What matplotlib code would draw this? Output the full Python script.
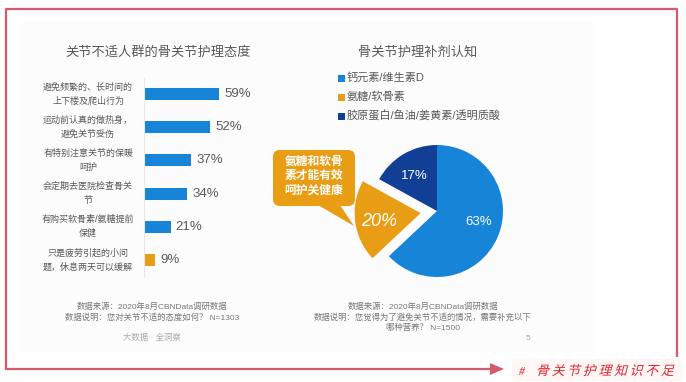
import numpy as np
import matplotlib
matplotlib.use('Agg')
import matplotlib.pyplot as plt
from matplotlib.patches import Rectangle, FancyBboxPatch, Polygon, PathPatch
from matplotlib.textpath import TextPath
from matplotlib.font_manager import FontProperties
from matplotlib.transforms import Affine2D

plt.rcParams['font.family'] = ['Liberation Sans', 'Noto Sans CJK SC']

W, H = 686, 382

# data
bar_title = '关节不适人群的骨关节护理态度'
bar_labels = ['避免频繁的、长时间的\n上下楼及爬山行为',
              '运动前认真的做热身，\n避免关节受伤',
              '有特别注意关节的保暖\n呵护',
              '会定期去医院检查骨关\n节',
              '有购买软骨素/氨糖提前\n保健',
              '只是疲劳引起的小问\n题，休息两天可以缓解']
bar_values = [59, 52, 37, 34, 21, 9]
bar_colors = ['#1685d8'] * 5 + ['#e99d15']

pie_title = '骨关节护理补剂认知'
pie_labels = ['钙元素/维生素D', '氨糖/软骨素', '胶原蛋白/鱼油/姜黄素/透明质酸']
pie_values = [63, 20, 17]
pie_colors = ['#1685d8', '#e99d15', '#123f96']
pie_explode = [0, 0.25, 0]

callout = '氨糖和软骨\n素才能有效\n呵护关健康'
note_left = '数据来源：2020年8月CBNData调研数据\n数据说明：您对关节不适的态度如何？ N=1303'
note_right = '数据来源：2020年8月CBNData调研数据\n数据说明：您觉得为了避免关节不适的情况，需要补充以下\n哪种营养？ N=1500'
footer_tag = '骨关节护理知识不足'

red = '#d45a6c'
grey = '#595959'

fig = plt.figure(figsize=(W / 100, H / 100), dpi=100)


def px_axes(x0, y0, x1, y1, z):
    return fig.add_axes([x0 / W, 1 - y1 / H, (x1 - x0) / W, (y1 - y0) / H], zorder=z)


# background / frame
bg = px_axes(0, 0, W, H, 0)
bg.set_xlim(0, W); bg.set_ylim(H, 0); bg.axis('off')
bg.add_patch(Rectangle((20, 22), 573, 330, color='#fcfcfc', lw=0))
bg.add_patch(Rectangle((512, 359), 171, 22, color='#fef7f6', lw=0))
bg.plot([6, 6, 677, 677], [369, 9, 9, 357], color=red, lw=1.6, solid_capstyle='butt')
bg.plot([6, 492], [369, 369], color=red, lw=1.6)
bg.add_patch(Polygon([(490, 363), (504, 369), (490, 375)], color=red, lw=0))

# italic, letter-spaced footer tag (CJK font has no italic, so skew the outlines)
fp = FontProperties(family='Noto Sans CJK SC')
chars = ['#'] + list(footer_tag)
xs = [518] + [536 + 15.6 * k for k in range(len(footer_tag))]
for ch, x0 in zip(chars, xs):
    tp = TextPath((0, 0), ch, size=13 if ch != '#' else 11, prop=fp)
    tf = Affine2D().skew_deg(14, 0).scale(1, -1).translate(x0, 375)
    bg.add_patch(PathPatch(tf.transform_path(tp), color='#e0242c', lw=0))

# bar chart
ax = px_axes(144, 77.5, 271, 276.5, 1)
y = np.arange(len(bar_values))
ax.barh(y, bar_values, height=0.36, color=bar_colors)
ax.set_xlim(0, 100)
ax.set_ylim(len(bar_values) - 0.5, -0.5)
ax.set_xticks([]); ax.set_yticks([])
for s in ['top', 'right', 'bottom']:
    ax.spines[s].set_visible(False)
ax.spines['left'].set_color('#e8e8e8')
ax.patch.set_alpha(0)
for i, (lab, v) in enumerate(zip(bar_labels, bar_values)):
    ax.text(v + 4, i, f'{v}%', va='center', ha='left', fontsize=9.5, color=grey)
    ax.text(-44, i, lab, va='center', ha='center', fontsize=6.5, color=grey,
            linespacing=1.7, clip_on=False)

# pie chart
pax = px_axes(338, 112, 536, 310, 1)
wedges, _ = pax.pie(pie_values, colors=pie_colors, startangle=90, counterclock=False,
                    explode=pie_explode, radius=1, wedgeprops=dict(linewidth=0))
pax.set_xlim(-1.5, 1.5); pax.set_ylim(-1.5, 1.5)
pax.set_aspect('equal')
pax.axis('off')
for w, v, ex in zip(wedges, pie_values, pie_explode):
    ang = np.deg2rad((w.theta1 + w.theta2) / 2)
    if v == 20:
        r = 0.6 + ex
        pax.text(r * np.cos(ang) - 0.03, r * np.sin(ang) - 0.05, f'{v}%', color='white',
                 fontsize=13, style='italic', ha='center', va='center')
    else:
        pax.text(0.68 * np.cos(ang), 0.68 * np.sin(ang) + (0.1 if v == 63 else -0.05), f'{v}%',
                 color='white', fontsize=9.5, ha='center', va='center')

# overlay texts
ov = px_axes(0, 0, W, H, 2)
ov.set_xlim(0, W); ov.set_ylim(H, 0); ov.axis('off')
ov.text(158, 52, bar_title, ha='center', va='center', fontsize=9.5, color=grey)
ov.text(418, 52, pie_title, ha='center', va='center', fontsize=9.5, color=grey)
for k, (lab, c) in enumerate(zip(pie_labels, pie_colors)):
    yy = 78 + k * 19
    ov.add_patch(Rectangle((338, yy - 3.5), 7, 7, color=c, lw=0))
    ov.text(347, yy, lab, ha='left', va='center', fontsize=8, color=grey)

ov.add_patch(FancyBboxPatch((273, 150), 82, 56, boxstyle='round,pad=0,rounding_size=7',
                            color='#e99d15', lw=0))
ov.add_patch(Polygon([(318, 205), (340, 205), (354, 226)], color='#e99d15', lw=0))
ov.text(314, 176, callout, ha='center', va='center', fontsize=8.5, color='white',
        weight='bold', linespacing=1.25)

ov.text(152, 312, note_left, ha='center', va='center', fontsize=6, color='#777777',
        linespacing=1.35)
ov.text(423, 317, note_right, ha='center', va='center', fontsize=6, color='#777777',
        linespacing=1.35)
ov.text(152, 338, '大数据 · 全洞察', ha='center', va='center', fontsize=6, color='#aaaaaa')
ov.text(528, 338, '5', ha='center', va='center', fontsize=6, color='#aaaaaa')

fig.savefig('out.png', dpi=100)
